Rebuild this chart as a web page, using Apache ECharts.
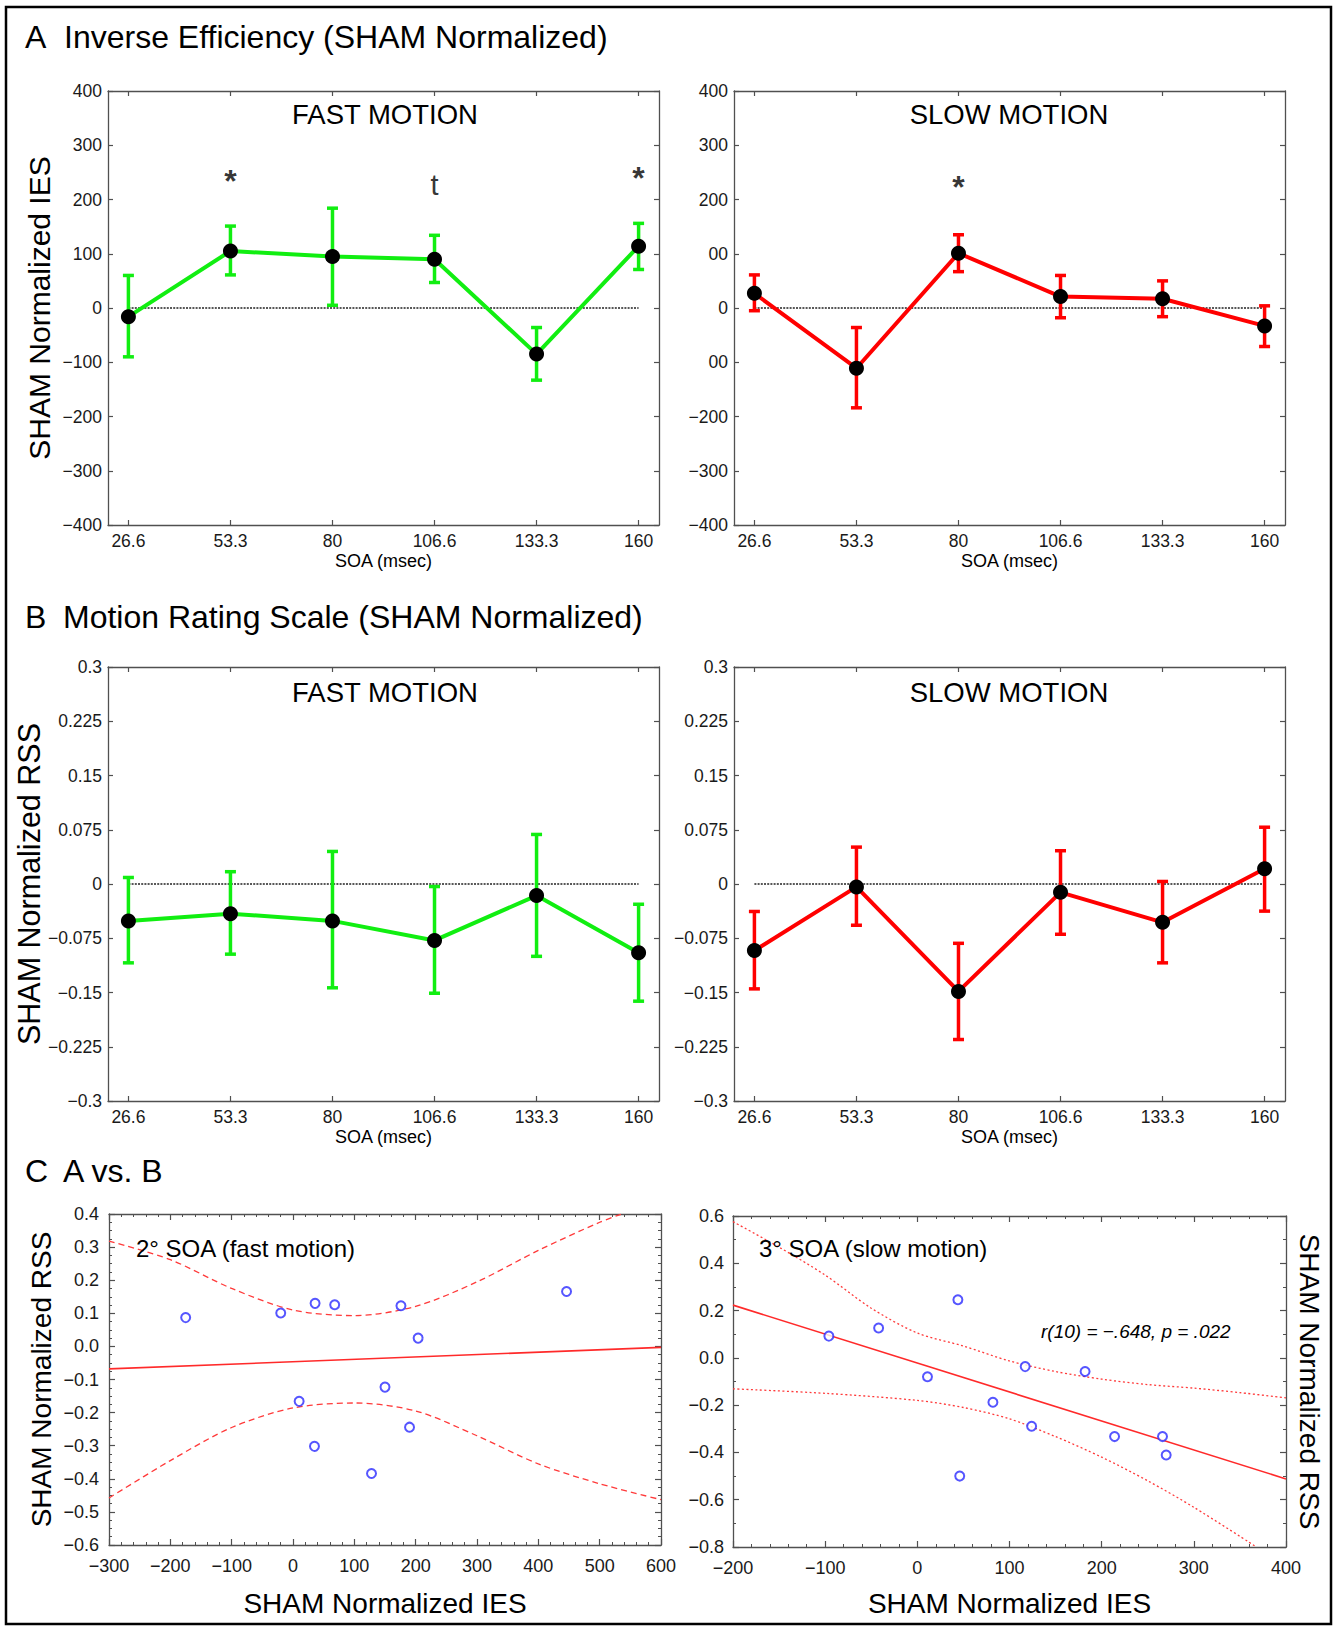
<!DOCTYPE html>
<html><head><meta charset="utf-8">
<script src="https://cdn.jsdelivr.net/npm/echarts@6/dist/echarts.min.js"></script>
<style>html,body{margin:0;padding:0;background:#fff}#c{width:1334px;height:1626px}</style>
</head><body><div id="c"></div>
<script>
// ---------- DATA ----------
const soaLabels = ['26.6', '53.3', '80', '106.6', '133.3', '160'];
const soaIndex = [0, 1, 2, 3, 4, 5];

// Panel A: inverse efficiency (SHAM normalized)
const iesFastMean = [-16, 105, 95, 90, -85, 114];
const iesFastLow  = [-90, 61, 5, 47, -133, 71];
const iesFastHigh = [60, 151, 184, 134, -36, 156];
const iesSlowMean = [27, -111, 101, 21, 17, -33];
const iesSlowLow  = [-5, -184, 67, -18, -16, -71];
const iesSlowHigh = [61, -36, 135, 60, 50, 4];
const iesTicksLeft  = ['\u2212400', '\u2212300', '\u2212200', '\u2212100', '0', '100', '200', '300', '400'];
const iesTicksRight = ['\u2212400', '\u2212300', '\u2212200', '00', '0', '00', '200', '300', '400'];
const sigFastX = [1, 3, 5];
const sigFastY = [242, 227, 247];
const sigFastText = ['*', 't', '*'];
const sigSlowX = [2];
const sigSlowY = [231];
const sigSlowText = ['*'];

// Panel B: motion rating scale (SHAM normalized)
const rssFastMean = [-0.051, -0.041, -0.051, -0.078, -0.016, -0.095];
const rssFastLow  = [-0.109, -0.097, -0.1435, -0.151, -0.100, -0.162];
const rssFastHigh = [0.009, 0.017, 0.045, -0.0035, 0.0685, -0.028];
const rssSlowMean = [-0.092, -0.004, -0.1485, -0.0115, -0.053, 0.021];
const rssSlowLow  = [-0.145, -0.057, -0.215, -0.0695, -0.109, -0.0375];
const rssSlowHigh = [-0.038, 0.051, -0.082, 0.046, 0.0035, 0.0785];
const rssTicks = ['\u22120.3', '\u22120.225', '\u22120.15', '\u22120.075', '0', '0.075', '0.15', '0.225', '0.3'];

// Panel C: A vs. B scatter
const cFastX = [-175, -20, 36, 68, 176, 204, 446, 150, 10, 35, 190, 128];
const cFastY = [0.087, 0.101, 0.130, 0.126, 0.123, 0.025, 0.166, -0.123, -0.166, -0.302, -0.244, -0.384];
const cFastFit = [[-300, -0.068], [600, -0.003]];
const cFastBandUp = [[-300, 0.318], [-200, 0.262], [-100, 0.175], [0, 0.110], [100, 0.093], [200, 0.121], [300, 0.195], [400, 0.290], [500, 0.375], [536, 0.40]];
const cFastBandLow = [[-300, -0.458], [-200, -0.345], [-100, -0.245], [0, -0.186], [100, -0.171], [200, -0.195], [300, -0.270], [400, -0.355], [500, -0.415], [600, -0.463]];
const cSlowX = [-96, -42, 44, 11, 117, 182, 82, 124, 214, 266, 270, 46];
const cSlowY = [0.092, 0.126, 0.246, -0.080, -0.037, -0.058, -0.188, -0.289, -0.333, -0.333, -0.411, -0.500];
const cSlowFit = [[-200, 0.223], [400, -0.512]];
const cSlowBandUp = [[-200, 0.576], [-150, 0.468], [-100, 0.350], [-50, 0.210], [0, 0.105], [50, 0.050], [100, -0.013], [150, -0.058], [200, -0.090], [250, -0.113], [300, -0.128], [350, -0.147], [400, -0.169]];
const cSlowBandLow = [[-200, -0.131], [-100, -0.150], [0, -0.180], [50, -0.210], [100, -0.258], [150, -0.333], [200, -0.420], [250, -0.520], [300, -0.632], [368, -0.8]];
const cFastXTicks = ['\u2212300', '\u2212200', '\u2212100', '0', '100', '200', '300', '400', '500', '600'];
const cFastYTicks = ['\u22120.6', '\u22120.5', '\u22120.4', '\u22120.3', '\u22120.2', '\u22120.1', '0.0', '0.1', '0.2', '0.3', '0.4'];
const cSlowXTicks = ['\u2212200', '\u2212100', '0', '100', '200', '300', '400'];
const cSlowYTicks = ['\u22120.8', '\u22120.6', '\u22120.4', '\u22120.2', '0.0', '0.2', '0.4', '0.6'];

// ---------- STYLE ----------
const FONT = '"Liberation Sans", Arial, Helvetica, sans-serif';
const AXC = '#505050';
const GREEN = '#11ee11';
const RED = '#ff0000';

const grids = [
  {left: 108, top: 91, width: 551, height: 434},
  {left: 734, top: 91, width: 551, height: 434},
  {left: 108, top: 667, width: 551, height: 434},
  {left: 734, top: 667, width: 551, height: 434},
  {left: 109, top: 1214, width: 552, height: 331},
  {left: 733, top: 1216, width: 553, height: 331}
];

function lbl(labels, base, step) {
  return v => { const i = Math.round((v - base) / step); return labels[i] != null ? labels[i] : ''; };
}

function axisPair(dim, gi, c) {
  const common = {
    gridIndex: gi, type: 'value', min: c.min, max: c.max,
    splitLine: {show: false},
    axisLine: {show: true, onZero: false, lineStyle: {color: AXC, width: 1.3}}
  };
  if (c.interval != null) common.interval = c.interval;
  const tick = {show: true, inside: true, length: c.tickLen || 5, lineStyle: {color: AXC, width: 1.2}};
  if (c.custom) tick.customValues = c.custom;
  const minor = c.minor ? {show: true, splitNumber: c.minor, length: 3, lineStyle: {color: AXC, width: 1}} : {show: false};
  const label = {show: true, margin: c.margin, fontSize: c.fs, color: '#1a1a1a', fontFamily: FONT,
    formatter: lbl(c.labels, c.base, c.step), showMinLabel: true, showMaxLabel: true};
  if (c.custom) label.customValues = c.custom;
  const main = Object.assign({}, common, {
    position: dim === 'x' ? 'bottom' : 'left', axisTick: tick, minorTick: minor, axisLabel: label
  });
  if (c.name) {
    main.name = c.name; main.nameLocation = 'middle'; main.nameGap = c.nameGap;
    main.nameTextStyle = {fontSize: c.nameFs, color: '#000', fontFamily: FONT};
  }
  const mirror = Object.assign({}, common, {
    position: dim === 'x' ? 'top' : 'right', axisTick: tick, minorTick: minor, axisLabel: {show: false}
  });
  if (c.mirrorName) {
    mirror.name = c.mirrorName; mirror.nameLocation = 'middle'; mirror.nameGap = c.mirrorNameGap;
    mirror.nameRotate = -90;
    mirror.nameTextStyle = {fontSize: c.nameFs, color: '#000', fontFamily: FONT};
  }
  return [main, mirror];
}

const soaX = (name) => ({min: -0.2, max: 5.2, custom: soaIndex, labels: soaLabels, base: 0, step: 1,
  margin: 7, fs: 17.5, name: name, nameGap: 27, nameFs: 18});

const xAxes = [].concat(
  axisPair('x', 0, soaX('SOA (msec)')),
  axisPair('x', 1, soaX('SOA (msec)')),
  axisPair('x', 2, soaX('SOA (msec)')),
  axisPair('x', 3, soaX('SOA (msec)')),
  axisPair('x', 4, {min: -300, max: 600, interval: 100, minor: 5, labels: cFastXTicks, base: -300, step: 100,
    margin: 12, fs: 18, name: 'SHAM Normalized IES', nameGap: 44, nameFs: 28, tickLen: 6}),
  axisPair('x', 5, {min: -200, max: 400, interval: 100, minor: 5, labels: cSlowXTicks, base: -200, step: 100,
    margin: 12, fs: 18, name: 'SHAM Normalized IES', nameGap: 42, nameFs: 28, tickLen: 6})
);
const yAxes = [].concat(
  axisPair('y', 0, {min: -400, max: 400, interval: 100, labels: iesTicksLeft, base: -400, step: 100, margin: 6, fs: 17.5,
    name: 'SHAM Normalized IES', nameGap: 54, nameFs: 30}),
  axisPair('y', 1, {min: -400, max: 400, interval: 100, labels: iesTicksRight, base: -400, step: 100, margin: 6, fs: 17.5}),
  axisPair('y', 2, {min: -0.3, max: 0.3, interval: 0.075, labels: rssTicks, base: -0.3, step: 0.075, margin: 6, fs: 17.5,
    name: 'SHAM Normalized RSS', nameGap: 54, nameFs: 30.5}),
  axisPair('y', 3, {min: -0.3, max: 0.3, interval: 0.075, labels: rssTicks, base: -0.3, step: 0.075, margin: 6, fs: 17.5}),
  axisPair('y', 4, {min: -0.6, max: 0.4, interval: 0.1, minor: 4, labels: cFastYTicks, base: -0.6, step: 0.1, margin: 10, fs: 18,
    name: 'SHAM Normalized RSS', nameGap: 54, nameFs: 28, tickLen: 6}),
  axisPair('y', 5, {min: -0.8, max: 0.6, interval: 0.2, minor: 2, labels: cSlowYTicks, base: -0.8, step: 0.2, margin: 9, fs: 18,
    mirrorName: 'SHAM Normalized RSS', mirrorNameGap: 9, nameFs: 28, tickLen: 6})
);

const errRender = (color) => (params, api) => {
  const x = api.value(0);
  const a = api.coord([x, api.value(1)]);
  const b = api.coord([x, api.value(2)]);
  const w = 5.5;
  const st = {stroke: color, lineWidth: 3.5, fill: null};
  return {type: 'group', children: [
    {type: 'line', shape: {x1: a[0], y1: a[1], x2: b[0], y2: b[1]}, style: st},
    {type: 'line', shape: {x1: a[0] - w, y1: a[1], x2: a[0] + w, y2: a[1]}, style: st},
    {type: 'line', shape: {x1: b[0] - w, y1: b[1], x2: b[0] + w, y2: b[1]}, style: st}
  ]};
};

function soaSeries(p, mean, lo, hi, color, sx, sy, st) {
  const xi = 2 * p, yi = 2 * p;
  const s = [
    {type: 'line', xAxisIndex: xi, yAxisIndex: yi, data: [[soaIndex[0], 0], [soaIndex[soaIndex.length - 1], 0]],
      symbol: 'none', silent: true, z: 1, lineStyle: {color: '#222', width: 1.3, type: [2, 1.2]}},
    {type: 'custom', xAxisIndex: xi, yAxisIndex: yi, encode: {x: 0, y: [1, 2]}, z: 2,
      data: mean.map((m, i) => [soaIndex[i], lo[i], hi[i]]), renderItem: errRender(color)},
    {type: 'line', xAxisIndex: xi, yAxisIndex: yi, z: 3, data: mean.map((m, i) => [soaIndex[i], m]),
      symbol: 'circle', symbolSize: 15, itemStyle: {color: '#000'}, lineStyle: {color: color, width: 4}}
  ];
  if (sx) {
    s.push({type: 'scatter', xAxisIndex: xi, yAxisIndex: yi, z: 4, symbolSize: 1, itemStyle: {color: 'rgba(0,0,0,0)'},
      data: sx.map((x, i) => ({value: [x, sy[i]], label: {
        show: true, position: 'inside', formatter: st[i], color: '#000', fontFamily: FONT,
        fontSize: st[i] === '*' ? 32 : 29, fontWeight: st[i] === '*' ? 'bold' : 'normal',
        offset: [0, st[i] === '*' ? 4 : 0]}}))});
  }
  return s;
}

function corrSeries(p, xs, ys, fit, up, low, dash) {
  const xi = 2 * p, yi = 2 * p;
  const bandStyle = {color: '#ff3a3a', width: 1.3, type: dash};
  return [
    {type: 'line', xAxisIndex: xi, yAxisIndex: yi, data: fit, symbol: 'none', z: 2,
      lineStyle: {color: '#ff2a2a', width: 1.6}},
    {type: 'line', xAxisIndex: xi, yAxisIndex: yi, data: up, symbol: 'none', smooth: 0.3, z: 2,
      lineStyle: bandStyle},
    {type: 'line', xAxisIndex: xi, yAxisIndex: yi, data: low, symbol: 'none', smooth: 0.3, z: 2,
      lineStyle: bandStyle},
    {type: 'scatter', xAxisIndex: xi, yAxisIndex: yi, z: 3, data: xs.map((x, i) => [x, ys[i]]),
      symbol: 'emptyCircle', symbolSize: 9, itemStyle: {color: '#2a2aff', borderWidth: 1.3}}
  ];
}

const series = [].concat(
  soaSeries(0, iesFastMean, iesFastLow, iesFastHigh, GREEN, sigFastX, sigFastY, sigFastText),
  soaSeries(1, iesSlowMean, iesSlowLow, iesSlowHigh, RED, sigSlowX, sigSlowY, sigSlowText),
  soaSeries(2, rssFastMean, rssFastLow, rssFastHigh, GREEN),
  soaSeries(3, rssSlowMean, rssSlowLow, rssSlowHigh, RED),
  corrSeries(4, cFastX, cFastY, cFastFit, cFastBandUp, cFastBandLow, [6, 4]),
  corrSeries(5, cSlowX, cSlowY, cSlowFit, cSlowBandUp, cSlowBandLow, [2, 2.5])
);

function txt(x, y, text, font, align) {
  return {type: 'text', x: x, y: y, z: 10, silent: true,
    style: {text: text, font: font, fill: '#000', align: align || 'left', verticalAlign: 'middle'}};
}
const H = '32px ' + FONT, T = '27.5px ' + FONT, N = '24px ' + FONT;
const graphic = [
  {type: 'rect', shape: {x: 6, y: 7, width: 1325, height: 1617}, style: {fill: 'none', stroke: '#000', lineWidth: 2.5}, silent: true},
  txt(25, 37, 'A', H), txt(64, 37, 'Inverse Efficiency (SHAM Normalized)', H),
  txt(25, 617, 'B', H), txt(63, 617, 'Motion Rating Scale (SHAM Normalized)', H),
  txt(25, 1171, 'C', H), txt(63, 1171, 'A vs. B', H),
  txt(385, 114, 'FAST MOTION', T, 'center'), txt(1009, 114, 'SLOW MOTION', T, 'center'),
  txt(385, 692, 'FAST MOTION', T, 'center'), txt(1009, 692, 'SLOW MOTION', T, 'center'),
  txt(136, 1248, '2\u00b0 SOA (fast motion)', N), txt(759, 1248, '3\u00b0 SOA (slow motion)', N),
  txt(1041, 1331, 'r(10) = \u2212.648, p = .022', 'italic 19px ' + FONT)
];

const chart = echarts.init(document.getElementById('c'), null, {renderer: 'svg'});
chart.setOption({
  animation: false,
  backgroundColor: '#fff',
  textStyle: {fontFamily: FONT},
  grid: grids,
  xAxis: xAxes,
  yAxis: yAxes,
  series: series,
  graphic: graphic
});
</script>
</body></html>
